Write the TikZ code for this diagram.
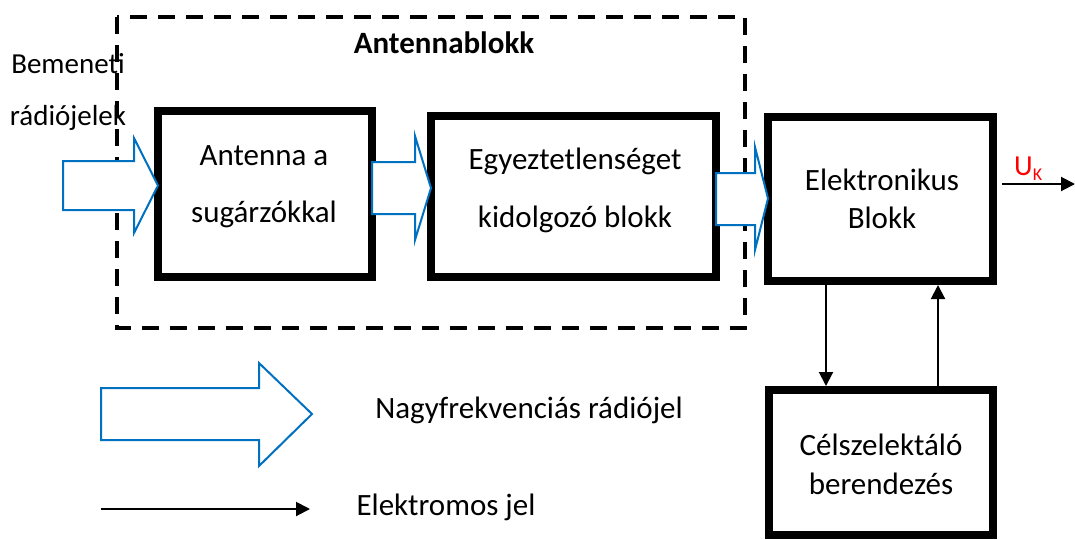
\documentclass[tikz,border=0pt]{standalone}
\usepackage{fontspec}
\setmainfont{Carlito}
\usetikzlibrary{arrows.meta}
\definecolor{sigblue}{RGB}{0,112,192}
\begin{document}
\begin{tikzpicture}[x=1pt,y=-1pt,
  blockbox/.style={draw, line width=8pt, fill=white, outer sep=0pt, inner sep=0pt},
  boxtxt/.style={font=\fontsize{31}{37}\selectfont, anchor=base, inner sep=0pt},
  sidetxt/.style={font=\fontsize{29}{35}\selectfont, anchor=base, inner sep=0pt},
  bigarrow/.style={draw=sigblue, line width=2pt, fill=white, line join=miter},
  elarrow/.style={line width=2pt, -{Triangle[length=14pt,width=14pt]}},
  groupframe/.style={draw, line width=4pt, dash pattern=on 17pt off 11pt}]
\useasboundingbox (0,0) rectangle (1075,539);

% antenna group frame
\draw[groupframe] (117,17) rectangle (745,328);
\node[font=\bfseries\fontsize{31}{37}\selectfont, anchor=base, inner sep=0pt] (grp) at (444,53) {Antennablokk};

% input label
\node[sidetxt] (in1) at (68,73) {Bemeneti};
\node[sidetxt] (in2) at (68,125) {rádiójelek};

% blocks
\node[blockbox, minimum width=214pt, minimum height=166pt] (ant) at (265,194) {};
\node[blockbox, minimum width=285pt, minimum height=161pt] (ie) at (573.5,196.5) {};
\node[blockbox, minimum width=225pt, minimum height=164pt] (el) at (880.5,199) {};
\node[blockbox, minimum width=224pt, minimum height=145pt] (cs) at (881,462.5) {};

% block texts
\node[boxtxt] (ant1) at (264,165) {Antenna a};
\node[boxtxt] (ant2) at (264,222) {sugárzókkal};
\node[boxtxt] (ie1) at (575,169) {Egyeztetlenséget};
\node[boxtxt] (ie2) at (575,227) {kidolgozó blokk};
\node[boxtxt] (el1) at (882,190) {Elektronikus};
\node[boxtxt] (el2) at (882,228) {Blokk};
\node[boxtxt] (cs1) at (881,455) {Célszelektáló};
\node[boxtxt] (cs2) at (881,494) {berendezés};

% radio-frequency signal arrows
\coordinate (src) at (63,185.5);
\draw[bigarrow] (src |- 0,161) -- (134,161) -- (134,138) -- (ant.west |- 0,185.5)
  -- (134,233) -- (134,210) -- (src |- 0,210) -- cycle;
\draw[bigarrow] (ant.east |- 0,162) -- (415,162) -- (415,136) -- (ie.west |- 0,188)
  -- (415,240) -- (415,214) -- (ant.east |- 0,214) -- cycle;
\draw[bigarrow] (ie.east |- 0,173) -- (755,173) -- (755,147) -- (el.west |- 0,198.5)
  -- (755,250) -- (755,225) -- (ie.east |- 0,225) -- cycle;

% electrical signals
\draw[elarrow, shorten >=4pt] (el.south -| 826,0) -- (cs.north -| 826,0);
\draw[elarrow, shorten >=4pt] (cs.north -| 938,0) -- (el.south -| 938,0);
\coordinate (uout) at (1075,184);
\draw[elarrow, shorten <=9pt] (el.east |- uout) -- (uout);
\node[font=\fontsize{29}{35}\selectfont, text=red, anchor=base west, inner sep=0pt] (uk)
  at (1014,175) {U\raisebox{-0.4ex}{\fontsize{18}{21}\selectfont K}};

% legend
\draw[bigarrow] (101,388) -- (259,388) -- (259,363) -- (312,414)
  -- (259,466) -- (259,440) -- (101,440) -- cycle;
\node[boxtxt] (lg1) at (529,418) {Nagyfrekvenciás rádiójel};
\coordinate (lga) at (101,509);
\coordinate (lgb) at (310,509);
\draw[elarrow] (lga) -- (lgb);
\node[boxtxt] (lg2) at (446,515) {Elektromos jel};
\end{tikzpicture}
\end{document}
